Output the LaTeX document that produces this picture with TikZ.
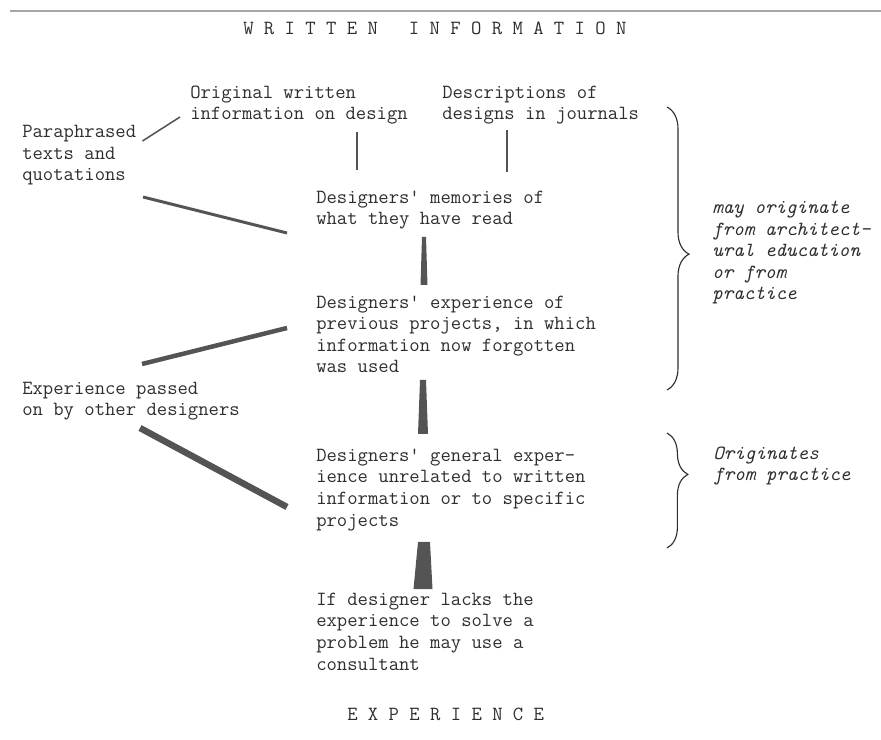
\documentclass[tikz,border=0pt]{standalone}
\usepackage{fontspec}
\usepackage{tikz}
\usetikzlibrary{calc, decorations.pathreplacing}
\definecolor{ink}{gray}{0.18}
\definecolor{bar}{gray}{0.33}

% tapered bar between two named points: top, bottom, half widths
\newcommand{\taper}[4]{%
  \fill[bar] ($(#1)+(-#3,0)$) -- ($(#1)+(#3,0)$) -- ($(#2)+(#4,0)$) -- ($(#2)+(-#4,0)$) -- cycle;}

\begin{document}
\begin{tikzpicture}[x=0.025cm, y=-0.025cm,
  every node/.style={inner sep=0pt, anchor=base west, align=left, text=ink,
    font=\ttfamily\fontsize{14.3pt}{15.4pt}\selectfont},
  note/.style={font=\ttfamily\itshape\fontsize{14.3pt}{15.4pt}\selectfont},
  feed/.style={draw=bar, line width=#1},
  brc/.style={draw=ink, line width=0.8pt, decorate}]
\useasboundingbox (0,0) rectangle (881,740);

% page rule and titles
\draw[gray!70, line width=1.4pt] (10,11) -- (881,11);
\node (written) at (243,35) {W R I T T E N\ \ \ I N F O R M A T I O N};
\node (experience) at (347,720) {E X P E R I E N C E};

% written sources (placed at the baseline of their last line)
\node (orig) at (190,120) {Original written\\information on design};
\node (descr) at (442,120) {Descriptions of\\designs in journals};
\node (para) at (22,181) {Paraphrased\\texts and\\quotations};
\node (others) at (22,416) {Experience passed\\on by other designers};

% designers' knowledge
\node (memories) at (316,225) {Designers' memories of\\what they have read};
\node (previous) at (316,373) {Designers' experience of\\previous projects, in which\\information now forgotten\\was used};
\node (general) at (316,526) {Designers' general exper-\\ience unrelated to written\\information or to specific\\projects};
\node (consult) at (316,670) {If designer lacks the\\experience to solve a\\problem he may use a\\consultant};

% notes on the right
\node[note] (note1) at (712,300) {may originate\\from architect-\\ural education\\or from\\practice};
\node[note] (note2) at (713,481) {Originates\\from practice};
\draw[brc, decoration={brace, amplitude=0.55cm, aspect=0.52}] (667,107) -- (667,390);
\draw[brc, decoration={brace, amplitude=0.52cm, aspect=0.36}] (667,433) -- (667,548);

% connectors
\draw[feed=1.1pt] ($(para.base east)+(6,-40)$) -- ($(orig.base west)+(-10,-3)$);
\draw[feed=1.4pt] ($(orig.base west)+(167,12)$) -- ($(memories.base west)+(41,-55)$);
\draw[feed=1.4pt] ($(descr.base west)+(65,10)$) -- ($(memories.base west)+(191,-53)$);
\draw[feed=2.1pt] ($(para.base west)+(121,16)$) -- ($(memories.base west)+(-29,8)$);
\draw[feed=3.2pt] ($(others.base west)+(120,-52)$) -- ($(previous.base west)+(-29,-45)$);
\draw[feed=4.6pt] ($(others.base west)+(118,12)$) -- ($(general.base west)+(-29,-19)$);

% tapered bars down the middle
\coordinate (w1t) at ($(memories.base west)+(108,12)$);
\coordinate (w1b) at ($(previous.base west)+(108,-88)$);
\coordinate (w2t) at ($(previous.base west)+(107,7)$);
\coordinate (w2b) at ($(general.base west)+(107,-92)$);
\coordinate (w3t) at ($(general.base west)+(108,16)$);
\coordinate (w3b) at ($(consult.base west)+(107,-81)$);
\taper{w1t}{w1b}{2}{3.5}
\taper{w2t}{w2b}{3}{5}
\taper{w3t}{w3b}{6}{9.5}
\end{tikzpicture}
\end{document}
